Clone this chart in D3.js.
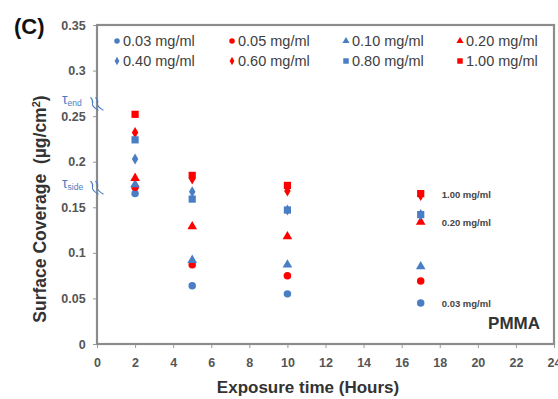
<!DOCTYPE html>
<html>
<head>
<meta charset="utf-8">
<script src="https://cdn.jsdelivr.net/npm/d3@7"></script>
<style>
  html, body { margin: 0; padding: 0; background: #fff; }
  svg { display: block; font-family: Arial, "Liberation Sans", sans-serif; }
</style>
</head>
<body>
<svg id="chart" width="558" height="399"></svg>
<script>
// Exposure times (hours) at which surface coverage was measured
const hours = [2, 5, 10, 17];

// Concentration series (legend order)
const seriesNames = ["0.03 mg/ml", "0.05 mg/ml", "0.10 mg/ml", "0.20 mg/ml",
                     "0.40 mg/ml", "0.60 mg/ml", "0.80 mg/ml", "1.00 mg/ml"];
const seriesShapes = ["circle", "circle", "triangle", "triangle",
                      "diamond", "diamond", "square", "square"];
const seriesColors = ["#4a7ec4", "#ff0000", "#4a7ec4", "#ff0000",
                      "#4a7ec4", "#ff0000", "#4a7ec4", "#ff0000"];

// Surface coverage (µg/cm²) per series, one value per exposure time
const c003 = [0.165, 0.064, 0.055, 0.045];
const c005 = [0.172, 0.087, 0.075, 0.069];
const c010 = [0.175, 0.092, 0.087, 0.085];
const c020 = [0.182, 0.129, 0.118, 0.134];
const c040 = [0.203, 0.167, 0.147, 0.142];
const c060 = [0.232, 0.181, 0.168, 0.163];
const c080 = [0.224, 0.159, 0.147, 0.142];
const c100 = [0.252, 0.185, 0.174, 0.165];
const seriesValues = [c003, c005, c010, c020, c040, c060, c080, c100];

// Axis ticks
const xTicks = [0, 2, 4, 6, 8, 10, 12, 14, 16, 18, 20, 22, 24];
const yTicks = [0, 0.05, 0.1, 0.15, 0.2, 0.25, 0.3, 0.35];
const yTickLabels = ["0", "0.05", "0.1", "0.15", "0.2", "0.25", "0.3", "0.35"];

// Labels placed next to the 17 h column
const endLabels = [
  { series: 7, text: "1.00 mg/ml" },
  { series: 3, text: "0.20 mg/ml" },
  { series: 0, text: "0.03 mg/ml" }
];

// Shear-stress reference levels marked on the y axis
const tauMarks = [
  { sub: "end", value: 0.264 },
  { sub: "side", value: 0.172 }
];

const svg = d3.select("#chart");
const plotLeft = 97, plotRight = 554, plotTop = 25, plotBottom = 344;

const x = d3.scaleLinear().domain([0, 24]).range([plotLeft, plotRight]);
const y = d3.scaleLinear().domain([0, 0.35]).range([plotBottom, plotTop]);

const symbolType = {
  circle: d3.symbolCircle,
  triangle: d3.symbolTriangle,
  diamond: d3.symbolDiamond,
  square: d3.symbolSquare
};
const symbolSize = { circle: 44, triangle: 40, diamond: 36, square: 52 };
const legendSize = { circle: 24, triangle: 22, diamond: 20, square: 30 };

// Axes
const xAxis = d3.axisBottom(x).tickValues(xTicks).tickSize(4).tickFormat(d3.format("d"));
const gx = svg.append("g").attr("transform", `translate(0,${plotBottom})`).call(xAxis);
const yAxis = d3.axisLeft(y).tickValues(yTicks).tickSize(4)
  .tickFormat((d, i) => yTickLabels[i]);
const gy = svg.append("g").attr("transform", `translate(${plotLeft},0)`).call(yAxis);

[gx, gy].forEach(g => {
  g.select(".domain").remove();
  g.selectAll(".tick line").attr("stroke", "#999").attr("stroke-width", 1);
  g.selectAll(".tick text")
    .attr("fill", "#555")
    .attr("font-size", 12.5)
    .attr("font-weight", "bold")
    .attr("font-family", "Arial, 'Liberation Sans', sans-serif");
});
gx.selectAll(".tick text").attr("dy", "1.25em");
gy.selectAll(".tick text").attr("dx", "-0.35em");

// Plot frame
svg.append("rect")
  .attr("x", plotLeft).attr("y", plotTop)
  .attr("width", plotRight - plotLeft).attr("height", plotBottom - plotTop)
  .attr("fill", "none").attr("stroke", "#8c8c8c").attr("stroke-width", 2.2);

// Data points
seriesValues.forEach((vals, si) => {
  const shape = seriesShapes[si];
  svg.append("g").selectAll("path")
    .data(vals.map((v, i) => ({ h: hours[i], v })))
    .join("path")
    .attr("transform", d => `translate(${x(d.h)},${y(d.v)})`)
    .attr("d", d3.symbol().type(symbolType[shape]).size(symbolSize[shape]))
    .attr("fill", seriesColors[si]);
});

// Legend: 4 columns x 2 rows
const legCols = [117, 232, 346, 460];
const legRows = [41, 61];
const legend = svg.append("g");
seriesNames.forEach((name, i) => {
  const cx = legCols[i % 4], cy = legRows[Math.floor(i / 4)];
  const shape = seriesShapes[i];
  legend.append("path")
    .attr("transform", `translate(${cx},${cy})`)
    .attr("d", d3.symbol().type(symbolType[shape]).size(legendSize[shape]))
    .attr("fill", seriesColors[i]);
  legend.append("text")
    .attr("x", cx + 6).attr("y", cy + 5)
    .attr("font-size", 14.5).attr("fill", "#404040")
    .text(name);
});

// Labels beside the last column
endLabels.forEach(l => {
  const v = seriesValues[l.series][3];
  svg.append("text")
    .attr("x", x(17) + 21).attr("y", y(v) + 4)
    .attr("font-size", 9.5).attr("font-weight", "bold").attr("fill", "#444")
    .text(l.text);
});

// Material label
svg.append("text")
  .attr("x", 540).attr("y", 329).attr("text-anchor", "end")
  .attr("font-size", 17).attr("font-weight", "bold").attr("fill", "#333")
  .text("PMMA");

// Shear stress markers with axis-break symbols
tauMarks.forEach(t => {
  const ty = y(t.value);
  const txt = svg.append("text")
    .attr("x", 62).attr("y", ty + 1)
    .attr("fill", "#4a7ec4").attr("font-size", 14);
  txt.append("tspan").text("τ");
  txt.append("tspan").attr("font-size", 8.5).attr("dy", 2).text(t.sub);
  [-2.5, 2.5].forEach(off => {
    svg.append("path")
      .attr("d", `M${plotLeft - 4 + off},${ty - 6} q3,3 2,6 q-1,3 6,7`)
      .attr("fill", "none").attr("stroke", "#4a7ec4").attr("stroke-width", 1.1);
  });
});

// Panel letter
svg.append("text")
  .attr("x", 14).attr("y", 34)
  .attr("font-size", 22).attr("font-weight", "bold").attr("fill", "#111")
  .text("(C)");

// Axis titles
svg.append("text")
  .attr("x", 308).attr("y", 393).attr("text-anchor", "middle")
  .attr("font-size", 17).attr("font-weight", "bold").attr("fill", "#333")
  .text("Exposure time (Hours)");

const yTitle = svg.append("text")
  .attr("transform", "translate(46,209) rotate(-90)")
  .attr("text-anchor", "middle")
  .attr("font-size", 17.5).attr("font-weight", "bold").attr("fill", "#333");
yTitle.append("tspan").text("Surface Coverage\u00a0\u00a0(µg/cm");
yTitle.append("tspan").attr("font-size", 11).attr("dy", -6).text("2");
yTitle.append("tspan").attr("dy", 6).text(")");
</script>
</body>
</html>
